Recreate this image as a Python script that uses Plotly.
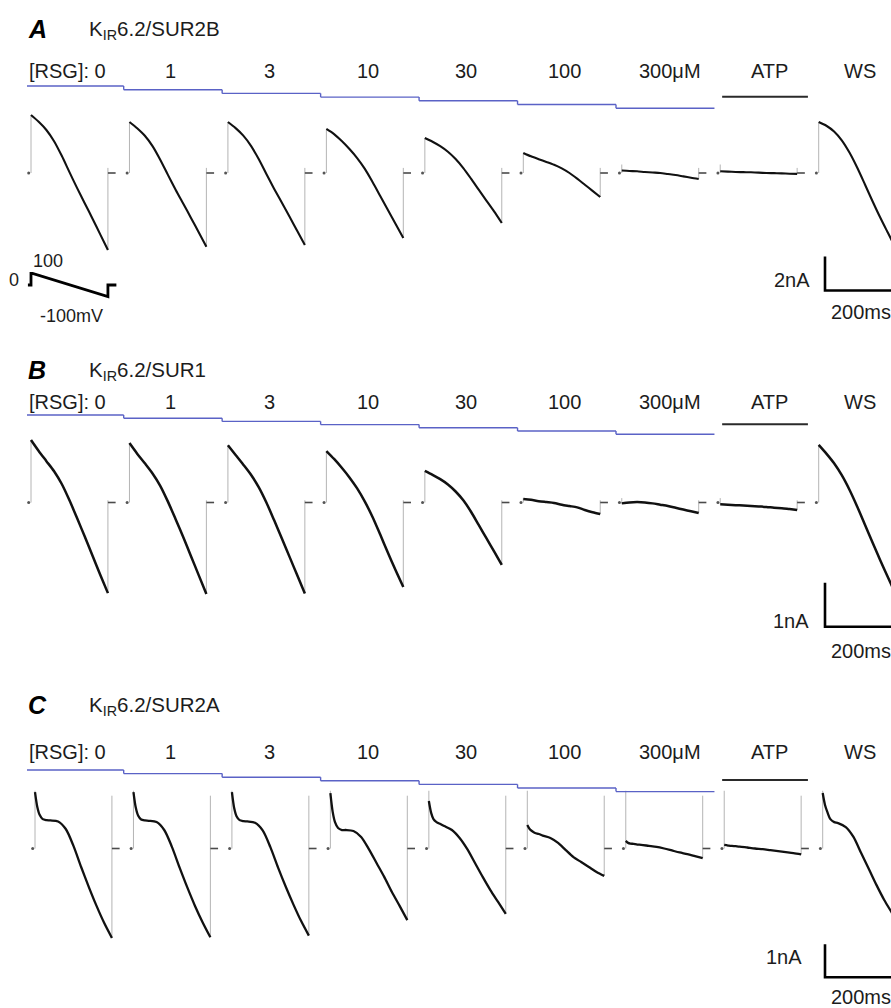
import plotly.graph_objects as go

W, H = 891, 1008

# ---------------- recorded values ----------------
conc_labels = ["[RSG]: 0", "1", "3", "10", "30", "100", "300μM", "ATP", "WS"]
panel_letters = ["A", "B", "C"]
panel_titles = ["K<sub>IR</sub>6.2/SUR2B", "K<sub>IR</sub>6.2/SUR1", "K<sub>IR</sub>6.2/SUR2A"]

# sample times along the 200 ms voltage ramp (+100 -> -100 mV)
ramp_t_ms = [0, 20, 40, 60, 80, 100, 120, 140, 160, 180, 200]
ramp_t_ms_c = [0, 6, 12, 20, 30, 40, 60, 80, 100, 120, 140, 160, 180, 200]

# ramp currents (nA), one row per condition in conc_labels order
sur2b_nA = [
    [3.41, 3.01, 2.53, 1.87, 1.01, 0.05, -0.89, -1.79, -2.69, -3.61, -4.53],
    [3.00, 2.63, 2.19, 1.58, 0.78, -0.11, -0.98, -1.81, -2.64, -3.49, -4.34],
    [3.00, 2.64, 2.20, 1.60, 0.82, -0.06, -0.92, -1.74, -2.56, -3.40, -4.24],
    [2.59, 2.29, 1.88, 1.41, 0.88, 0.24, -0.53, -1.35, -2.18, -3.00, -3.82],
    [2.06, 1.84, 1.58, 1.25, 0.82, 0.29, -0.33, -0.98, -1.62, -2.26, -2.94],
    [1.18, 0.98, 0.81, 0.65, 0.48, 0.27, 0.00, -0.33, -0.69, -1.05, -1.41],
    [0.15, 0.12, 0.10, 0.06, 0.03, 0.00, -0.06, -0.12, -0.20, -0.28, -0.35],
    [0.10, 0.08, 0.06, 0.05, 0.04, 0.02, 0.00, -0.01, -0.02, -0.04, -0.05],
    [3.00, 2.78, 2.44, 1.92, 1.20, 0.32, -0.66, -1.66, -2.62, -3.52, -4.41],
]
sur1_nA = [
    [1.42, 1.17, 0.94, 0.71, 0.42, 0.05, -0.36, -0.78, -1.21, -1.64, -2.06],
    [1.35, 1.11, 0.89, 0.66, 0.38, 0.02, -0.38, -0.79, -1.22, -1.65, -2.08],
    [1.30, 1.08, 0.86, 0.63, 0.35, 0.00, -0.40, -0.81, -1.23, -1.65, -2.07],
    [1.17, 0.99, 0.79, 0.57, 0.32, 0.02, -0.33, -0.73, -1.14, -1.54, -1.92],
    [0.72, 0.63, 0.53, 0.41, 0.25, 0.05, -0.21, -0.51, -0.81, -1.11, -1.42],
    [0.08, 0.06, 0.03, 0.01, -0.01, -0.05, -0.08, -0.11, -0.17, -0.22, -0.26],
    [-0.02, 0.00, 0.01, 0.00, -0.02, -0.05, -0.08, -0.12, -0.16, -0.20, -0.24],
    [-0.04, -0.05, -0.06, -0.07, -0.08, -0.09, -0.10, -0.12, -0.13, -0.15, -0.17],
    [1.31, 1.11, 0.89, 0.62, 0.29, -0.09, -0.50, -0.91, -1.31, -1.70, -2.08],
]
sur2a_nA = [
    [1.71, 1.26, 1.02, 0.89, 0.86, 0.85, 0.82, 0.59, 0.08, -0.56, -1.17, -1.74, -2.26, -2.71],
    [1.71, 1.24, 1.00, 0.88, 0.85, 0.84, 0.80, 0.56, 0.05, -0.58, -1.18, -1.74, -2.24, -2.69],
    [1.71, 1.22, 0.98, 0.86, 0.83, 0.82, 0.78, 0.55, 0.04, -0.58, -1.16, -1.70, -2.20, -2.64],
    [1.68, 1.11, 0.80, 0.62, 0.56, 0.56, 0.53, 0.35, -0.02, -0.44, -0.86, -1.32, -1.74, -2.17],
    [1.44, 1.08, 0.89, 0.80, 0.74, 0.68, 0.56, 0.32, -0.02, -0.44, -0.86, -1.26, -1.62, -1.98],
    [0.71, 0.59, 0.53, 0.47, 0.44, 0.39, 0.32, 0.17, -0.05, -0.26, -0.41, -0.56, -0.71, -0.83],
    [0.23, 0.17, 0.15, 0.14, 0.12, 0.11, 0.08, 0.05, 0.00, -0.06, -0.12, -0.17, -0.23, -0.29],
    [0.11, 0.10, 0.09, 0.08, 0.07, 0.06, 0.03, 0.00, -0.02, -0.05, -0.08, -0.11, -0.14, -0.18],
    [1.68, 1.32, 1.11, 0.89, 0.80, 0.77, 0.65, 0.35, -0.14, -0.62, -1.11, -1.56, -1.95, -2.35],
]

# voltage protocol (inset)
protocol_t_ms = [-8, 0, 0, 4, 200, 200, 222]
protocol_mV = [0, 0, 100, 100, -100, 0, 0]

# scale bars
bar_current_nA = [2, 1, 1]
bar_time_ms = 200

# ---------------- layout helpers ----------------
MS_PER_PX = 2.6
X0_PX = 31
SWEEP_STEP_MS = 256.0
FONT = "Liberation Sans, Arial, sans-serif"
INK = "#1c1c1c"
BLUE = "#5a62c6"
LABEL_SIZE = 20
LABEL_NUDGE_PX = {6: 7, 7: 8}


def t_of_px(px):
    return (px - X0_PX) * MS_PER_PX


def paper_y(py):
    return 1 - py / H


def axis_for(top_px, bottom_px, zero_px, px_per_unit):
    return dict(
        domain=[paper_y(bottom_px), paper_y(top_px)],
        range=[(zero_px - bottom_px) / px_per_unit, (zero_px - top_px) / px_per_unit],
        visible=False, fixedrange=True, showgrid=False, zeroline=False,
    )


panels = [
    dict(axis="y", top=0, bottom=335, zero=173.0, ppu=17.0, currents=sur2b_nA, times=ramp_t_ms,
         shift_px=0, tr_start=0.5, tr_end=0.3, lw=2.1,
         stair0=86.0, stair_dy=3.7, atp_py=96.7, title_py=29, label_py=71,
         bar_py=290.5, bar_label_py=280, time_label_py=312, bar_label_px=812),
    dict(axis="y2", top=335, bottom=665, zero=502.5, ppu=44.0, currents=sur1_nA, times=ramp_t_ms,
         shift_px=0, tr_start=0.1, tr_end=0.05, lw=2.5,
         stair0=415.0, stair_dy=3.2, atp_py=424.3, title_py=370, label_py=402,
         bar_py=626.7, bar_label_py=621, time_label_py=651, bar_label_px=811),
    dict(axis="y3", top=665, bottom=1008, zero=848.5, ppu=33.0, currents=sur2a_nA, times=ramp_t_ms_c,
         shift_px=4, tr_start=1.75, tr_end=1.6, lw=2.3,
         stair0=770.0, stair_dy=3.6, atp_py=780.0, title_py=705, label_py=752,
         bar_py=977.3, bar_label_py=957, time_label_py=997, bar_label_px=804),
]

fig = go.Figure()
shapes = []
annotations = []


def text(s, px, py, size, xanchor="center", xref="paper", x=None, color=INK):
    annotations.append(dict(
        text=s, x=(px / W) if x is None else x, y=paper_y(py), xref=xref, yref="paper",
        xanchor=xanchor, yanchor="middle", showarrow=False,
        font=dict(family=FONT, size=size, color=color),
    ))


for k, p in enumerate(panels):
    ya = p["axis"]
    shift = p["shift_px"] * MS_PER_PX

    # holding-current marks, capacitive transients and return steps (thin grey)
    gx, gy, dx, dy, hx, hy = [], [], [], [], [], []
    for i, cur in enumerate(p["currents"]):
        t0 = shift + i * SWEEP_STEP_MS
        t_end = t0 + p["times"][-1]
        gx += [t0, t0, None, t_end, t_end, None]
        gy += [min(0, cur[0]), max(cur[0], p["tr_start"]), None, cur[-1], max(0, p["tr_end"]), None]
        dx += [t_end, t_end + 20, None]
        dy += [0, 0, None]
        hx.append(t0 - 6)
        hy.append(0)
    fig.add_trace(go.Scatter(x=gx, y=gy, yaxis=ya, mode="lines",
                             line=dict(color="#b4b4b4", width=1), hoverinfo="skip"))
    fig.add_trace(go.Scatter(x=dx, y=dy, yaxis=ya, mode="lines",
                             line=dict(color="#4a4a4a", width=1.6), hoverinfo="skip"))
    fig.add_trace(go.Scatter(x=hx, y=hy, yaxis=ya, mode="markers",
                             marker=dict(color="#555", size=3), hoverinfo="skip"))

    # ramp currents
    for i, cur in enumerate(p["currents"]):
        t0 = shift + i * SWEEP_STEP_MS
        fig.add_trace(go.Scatter(
            x=[t0 + t for t in p["times"]], y=cur, yaxis=ya, mode="lines",
            line=dict(color="#111111", width=p["lw"], shape="spline", smoothing=0.8),
            name=conc_labels[i], hoverinfo="skip"))

    # drug application staircase (blue) for RSG concentrations
    n_rsg = 7
    for i in range(n_rsg):
        xa = t_of_px(27) if i == 0 else i * SWEEP_STEP_MS - 15
        xb = (i + 1) * SWEEP_STEP_MS - 15
        yv = paper_y(p["stair0"] + i * p["stair_dy"])
        shapes.append(dict(type="line", xref="x", yref="paper", x0=xa, x1=xb, y0=yv, y1=yv,
                           line=dict(color=BLUE, width=1.4)))
        if i > 0:
            shapes.append(dict(type="line", xref="x", yref="paper", x0=xa, x1=xa,
                               y0=paper_y(p["stair0"] + (i - 1) * p["stair_dy"]), y1=yv,
                               line=dict(color=BLUE, width=1.4)))
    # ATP application bar
    shapes.append(dict(type="line", xref="x", yref="paper",
                       x0=7 * SWEEP_STEP_MS + 5, x1=7 * SWEEP_STEP_MS + 228,
                       y0=paper_y(p["atp_py"]), y1=paper_y(p["atp_py"]),
                       line=dict(color="#2a2a2a", width=2)))

    # condition labels
    text(conc_labels[0], 27, p["label_py"], LABEL_SIZE, xanchor="left")
    for i in range(1, len(conc_labels)):
        nudge = LABEL_NUDGE_PX.get(i, 0) * MS_PER_PX
        text(conc_labels[i], 0, p["label_py"], LABEL_SIZE, xref="x",
             x=i * SWEEP_STEP_MS + 107 + nudge)

    # panel letter and construct name
    annotations.append(dict(text="<b><i>%s</i></b>" % panel_letters[k], x=26 / W, y=paper_y(p["title_py"]),
                            xref="paper", yref="paper", xanchor="left", yanchor="middle", showarrow=False,
                            font=dict(family=FONT, size=25, color="#000")))
    text(panel_titles[k], 87, p["title_py"] + 1, 20.5, xanchor="left")

    # scale bar
    t_bar = t_of_px(825)
    y_c = (p["zero"] - p["bar_py"]) / p["ppu"]
    fig.add_trace(go.Scatter(
        x=[t_bar, t_bar, t_bar + bar_time_ms], y=[y_c + bar_current_nA[k], y_c, y_c], yaxis=ya,
        mode="lines", line=dict(color="#000", width=2.6), hoverinfo="skip"))
    text("%dnA" % bar_current_nA[k], p["bar_label_px"], p["bar_label_py"], LABEL_SIZE, xanchor="right")
    text("%dms" % bar_time_ms, 861, p["time_label_py"], LABEL_SIZE)

# voltage protocol inset
fig.add_trace(go.Scatter(x=protocol_t_ms, y=protocol_mV, yaxis="y4", mode="lines",
                         line=dict(color="#000", width=2.8), hoverinfo="skip"))
text("100", 48, 261, 18)
text("0", 14, 280, 18)
text("-100mV", 71, 316, 18)


def panel_axis(p):
    return axis_for(p["top"], p["bottom"], p["zero"], p["ppu"])


fig.update_layout(
    width=W, height=H, margin=dict(l=0, r=0, t=0, b=0),
    paper_bgcolor="white", plot_bgcolor="rgba(0,0,0,0)", showlegend=False,
    xaxis=dict(domain=[0, 1], range=[t_of_px(0), t_of_px(W)], visible=False, fixedrange=True),
    yaxis=panel_axis(panels[0]),
    yaxis2=panel_axis(panels[1]),
    yaxis3=panel_axis(panels[2]),
    yaxis4=axis_for(240, 335, 285.0, 0.115),
    shapes=shapes, annotations=annotations,
)

fig.write_html("out.html", config={"displayModeBar": False, "staticPlot": True})
